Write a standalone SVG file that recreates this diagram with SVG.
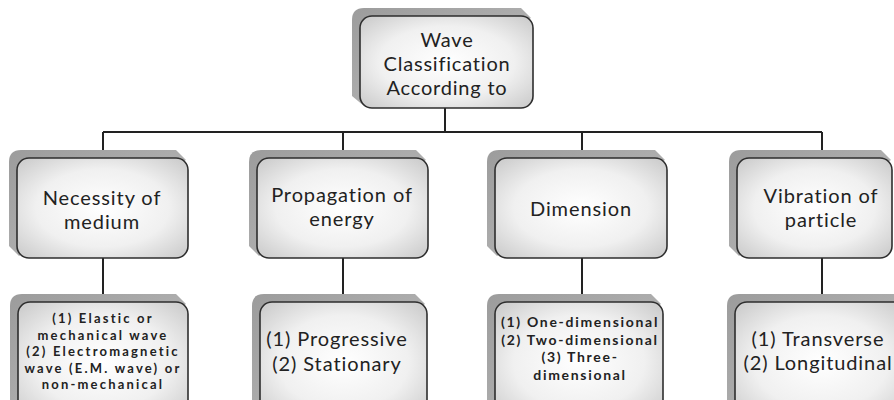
<svg xmlns="http://www.w3.org/2000/svg" width="894" height="400" viewBox="0 0 894 400">
<defs>
<radialGradient id="face" cx="50%" cy="50%" r="65%">
<stop offset="0" stop-color="#ffffff"/>
<stop offset="0.6" stop-color="#f0f0f0"/>
<stop offset="1" stop-color="#cfcfcf"/>
</radialGradient>
<linearGradient id="side" x1="0" y1="0" x2="1" y2="1">
<stop offset="0" stop-color="#9c9c9c"/>
<stop offset="1" stop-color="#bdbdbd"/>
</linearGradient>
</defs>
<style>
.sh{fill:url(#side);stroke:none}
.fc{fill:url(#face);stroke:#2e2e2e;stroke-width:1.6}
.cn{fill:none;stroke:#222;stroke-width:2}
text{font-family:Lato,"Open Sans","Liberation Sans",sans-serif;fill:#222;text-anchor:middle}
.t1{font-size:20px;letter-spacing:0.8px}
.t2{font-size:20px;letter-spacing:0.9px}
.t3{font-size:13px;font-weight:bold;letter-spacing:2.2px}
.t4{font-size:14px;font-weight:bold;letter-spacing:1.7px}
</style>
<rect width="894" height="400" fill="#ffffff"/>
<g id="connectors" class="cn">
<path d="M445,108 V132 M103,132 H822 M103,132 V150 M343,132 V150 M582,132 V150 M822,132 V150"/>
<path d="M103,258 V294 M343,258 V294 M582,258 V294 M822,258 V294"/>
</g>
<g id="root">
<path class="sh" d="M352,20 Q352,8 364,8 L521,8 L531,18 L364,106 L352,96 Z"/>
<rect class="fc" x="360" y="16" width="173" height="92" rx="12"/>
<text class="t1" x="447" y="47">Wave</text>
<text class="t1" x="447" y="71">Classification</text>
<text class="t1" x="447" y="95">According to</text>
</g>
<g id="n-medium">
<path class="sh" d="M9,162 Q9,150 21,150 L176,150 L186,160 L19,256 L9,246 Z"/>
<rect class="fc" x="17" y="158" width="171" height="100" rx="12"/>
<text class="t2" x="102" y="205">Necessity of</text>
<text class="t2" x="102" y="229">medium</text>
</g>
<g id="n-energy">
<path class="sh" d="M249,162 Q249,150 261,150 L416,150 L426,160 L259,256 L249,246 Z"/>
<rect class="fc" x="257" y="158" width="171" height="100" rx="12"/>
<text class="t2" x="342" y="202">Propagation of</text>
<text class="t2" x="342" y="226">energy</text>
</g>
<g id="n-dimension">
<path class="sh" d="M487,162 Q487,150 499,150 L655,150 L665,160 L497,256 L487,246 Z"/>
<rect class="fc" x="495" y="158" width="172" height="100" rx="12"/>
<text class="t2" x="581" y="216">Dimension</text>
</g>
<g id="n-vibration">
<path class="sh" d="M729,162 Q729,150 741,150 L881,150 L891,160 L739,256 L729,246 Z"/>
<rect class="fc" x="737" y="158" width="155" height="100" rx="12"/>
<text class="t2" x="821" y="203">Vibration of</text>
<text class="t2" x="821" y="227">particle</text>
</g>
<g id="n-medium-types">
<path class="sh" d="M10,306 Q10,294 22,294 L176,294 L186,304 L20,420 L10,410 Z"/>
<rect class="fc" x="18" y="302" width="170" height="120" rx="12"/>
<text class="t3" x="103" y="323">(1) Elastic or</text>
<text class="t3" x="103" y="339.5">mechanical wave</text>
<text class="t3" x="103" y="356">(2) Electromagnetic</text>
<text class="t3" x="103" y="372.5">wave (E.M. wave) or</text>
<text class="t3" x="103" y="389">non-mechanical</text>
</g>
<g id="n-energy-types">
<path class="sh" d="M252,306 Q252,294 264,294 L415,294 L425,304 L262,420 L252,410 Z"/>
<rect class="fc" x="260" y="302" width="167" height="120" rx="12"/>
<text class="t2" x="337" y="346">(1) Progressive</text>
<text class="t2" x="337" y="371">(2) Stationary</text>
</g>
<g id="n-dimension-types">
<path class="sh" d="M487,306 Q487,294 499,294 L651,294 L661,304 L497,420 L487,410 Z"/>
<rect class="fc" x="495" y="302" width="168" height="120" rx="12"/>
<text class="t4" x="580" y="327">(1) One-dimensional</text>
<text class="t4" x="580" y="344.5">(2) Two-dimensional</text>
<text class="t4" x="580" y="362">(3) Three-</text>
<text class="t4" x="580" y="379.5">dimensional</text>
</g>
<g id="n-vibration-types">
<path class="sh" d="M727,306 Q727,294 739,294 L895,294 L905,304 L737,420 L727,410 Z"/>
<rect class="fc" x="735" y="302" width="172" height="120" rx="12"/>
<text class="t2" x="818" y="346">(1) Transverse</text>
<text class="t2" x="818" y="370">(2) Longitudinal</text>
</g>
</svg>
